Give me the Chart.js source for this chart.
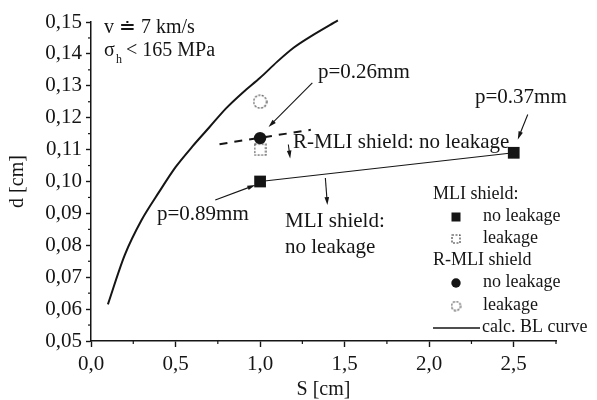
<!DOCTYPE html>
<html><head><meta charset="utf-8">
<script src="https://cdn.jsdelivr.net/npm/chart.js@4"></script>
<style>html,body{margin:0;padding:0;background:#fff;} canvas{display:block;}</style>
</head><body>
<canvas id="c" width="597" height="400"></canvas>
<script>
// ---- data ----
const blCurveS = [0.1, 0.2, 0.3, 0.4, 0.5, 0.6, 0.7, 0.8, 0.9, 1.0, 1.1, 1.2, 1.3, 1.46];
const blCurveD = [0.0615, 0.077, 0.088, 0.0965, 0.1045, 0.111, 0.117, 0.123, 0.128, 0.1325, 0.1375, 0.142, 0.1455, 0.1505];
const mliNoLeakS = [1.0, 2.5];
const mliNoLeakD = [0.100, 0.109];
const mliLeakS = [1.0];
const mliLeakD = [0.110];
const rmliNoLeakS = [1.0];
const rmliNoLeakD = [0.1136];
const rmliLeakS = [1.0];
const rmliLeakD = [0.125];
const rmliTrendS = [0.76, 1.30];
const rmliTrendD = [0.1117, 0.1162];
const xTicks = [0, 0.5, 1.0, 1.5, 2.0, 2.5];
const yTicks = [0.05, 0.06, 0.07, 0.08, 0.09, 0.10, 0.11, 0.12, 0.13, 0.14, 0.15];
const xMinor = [0.25, 0.75, 1.25, 1.75, 2.25, 2.75];
const yMinor = [0.055, 0.065, 0.075, 0.085, 0.095, 0.105, 0.115, 0.125, 0.135, 0.145];
// arrows [fromS, fromD, toS, toD]
const arrows = [
  [1.309, 0.1309, 1.05, 0.1171],
  [2.583, 0.1210, 2.524, 0.1132],
  [0.735, 0.0942, 0.972, 0.0989],
  [1.167, 0.1116, 1.178, 0.1072],
  [1.386, 0.1011, 1.398, 0.0926]
];

const pts = (xs, ys) => xs.map((x, i) => ({x: x, y: ys[i]}));
const FONT = "'Liberation Serif', 'Times New Roman', serif";
const INK = '#151515';

function dottedSquare(size) {
  const c = document.createElement('canvas');
  c.width = c.height = size + 2;
  const g = c.getContext('2d');
  g.setLineDash([2, 1.5]);
  g.lineWidth = 1.1;
  g.strokeStyle = '#333';
  g.strokeRect(1, 1, size, size);
  return c;
}
function dottedCircle(size) {
  const c = document.createElement('canvas');
  c.width = c.height = size + 2;
  const g = c.getContext('2d');
  g.setLineDash([2, 1.5]);
  g.lineWidth = 1.1;
  g.strokeStyle = '#333';
  g.beginPath();
  g.arc(c.width / 2, c.height / 2, size / 2, 0, Math.PI * 2);
  g.stroke();
  return c;
}
const openSq = dottedSquare(11), openCi = dottedCircle(13);
const openSqS = dottedSquare(8), openCiS = dottedCircle(9);

const decor = {
  id: 'decor',
  afterDraw(chart) {
    const ctx = chart.ctx, xs = chart.scales.x, ys = chart.scales.y;
    ctx.save();
    // minor ticks
    ctx.strokeStyle = INK; ctx.lineWidth = 1.2;
    xMinor.forEach(v => { const p = xs.getPixelForValue(v); ctx.beginPath(); ctx.moveTo(p, xs.top); ctx.lineTo(p, xs.top + 3); ctx.stroke(); });
    yMinor.forEach(v => { const p = ys.getPixelForValue(v); ctx.beginPath(); ctx.moveTo(ys.right, p); ctx.lineTo(ys.right - 3, p); ctx.stroke(); });
    // arrows
    arrows.forEach(a => {
      const x1 = xs.getPixelForValue(a[0]), y1 = ys.getPixelForValue(a[1]);
      const x2 = xs.getPixelForValue(a[2]), y2 = ys.getPixelForValue(a[3]);
      const ang = Math.atan2(y2 - y1, x2 - x1);
      ctx.lineWidth = 1.1;
      ctx.beginPath(); ctx.moveTo(x1, y1); ctx.lineTo(x2 - 6 * Math.cos(ang), y2 - 6 * Math.sin(ang)); ctx.stroke();
      ctx.beginPath();
      ctx.moveTo(x2, y2);
      ctx.lineTo(x2 - 8 * Math.cos(ang) + 2.3 * Math.sin(ang), y2 - 8 * Math.sin(ang) - 2.3 * Math.cos(ang));
      ctx.lineTo(x2 - 8 * Math.cos(ang) - 2.3 * Math.sin(ang), y2 - 8 * Math.sin(ang) + 2.3 * Math.cos(ang));
      ctx.closePath(); ctx.fillStyle = INK; ctx.fill();
    });
    // text annotations
    ctx.fillStyle = INK;
    ctx.textAlign = 'left';
    ctx.textBaseline = 'alphabetic';
    ctx.font = '20px ' + FONT;
    ctx.fillText('v \u2250 7 km/s', 104, 33);
    ctx.fillText('\u03c3', 104, 56);
    ctx.font = '12px ' + FONT;
    ctx.fillText('h', 116, 63);
    ctx.font = '20px ' + FONT;
    ctx.fillText('< 165 MPa', 126, 56);
    ctx.font = '21px ' + FONT;
    ctx.textBaseline = 'middle';
    ctx.fillText('p=0.26mm', 318, 72);
    ctx.fillText('p=0.37mm', 475, 97);
    ctx.fillText('R-MLI shield: no leakage', 293, 142);
    ctx.fillText('p=0.89mm', 157, 214);
    ctx.fillText('MLI shield:', 285, 221);
    ctx.fillText('no leakage', 285, 247);
    // legend
    ctx.font = '18px ' + FONT;
    ctx.fillText('MLI shield:', 433, 194);
    ctx.fillText('no leakage', 483, 216);
    ctx.fillText('leakage', 483, 238);
    ctx.fillText('R-MLI shield', 433, 260);
    ctx.fillText('no leakage', 483, 282);
    ctx.fillText('leakage', 483, 305);
    ctx.fillText('calc. BL curve', 482, 327);
    ctx.fillRect(456 - 4.5, 217 - 4.5, 9, 9);
    ctx.drawImage(openSqS, 456 - 5, 239 - 5);
    ctx.beginPath(); ctx.arc(456, 283, 4.7, 0, Math.PI * 2); ctx.fill();
    ctx.drawImage(openCiS, 456 - 5.5, 306 - 5.5);
    ctx.lineWidth = 1.6;
    ctx.beginPath(); ctx.moveTo(433, 328); ctx.lineTo(480, 328); ctx.stroke();
    ctx.restore();
  }
};

Chart.defaults.font.family = FONT;
Chart.defaults.color = INK;

new Chart(document.getElementById('c'), {
  type: 'scatter',
  data: {
    datasets: [
      { label: 'calc. BL curve', data: pts(blCurveS, blCurveD), showLine: true, borderColor: INK, borderWidth: 2, pointRadius: 0, tension: 0.3, fill: false, clip: 6 },
      { label: 'R-MLI trend', data: pts(rmliTrendS, rmliTrendD), showLine: true, borderColor: INK, borderWidth: 2, borderDash: [8, 7], pointRadius: 0, fill: false },
      { label: 'MLI no leakage line', data: pts(mliNoLeakS, mliNoLeakD), showLine: true, borderColor: INK, borderWidth: 1.1, pointRadius: 0, fill: false },
      { label: 'MLI leakage', data: pts(mliLeakS, mliLeakD), pointStyle: openSq, pointRadius: 6 },
      { label: 'MLI no leakage', data: pts(mliNoLeakS, mliNoLeakD), pointStyle: 'rect', pointRadius: 8.3, backgroundColor: INK, borderColor: INK, borderWidth: 0 },
      { label: 'R-MLI leakage', data: pts(rmliLeakS, rmliLeakD), pointStyle: openCi, pointRadius: 7 },
      { label: 'R-MLI no leakage', data: pts(rmliNoLeakS, rmliNoLeakD), pointStyle: 'circle', pointRadius: 6.2, backgroundColor: INK, borderColor: INK, borderWidth: 0 }
    ]
  },
  options: {
    responsive: false,
    animation: false,
    events: [],
    layout: { padding: { left: 0, right: 41, top: 22, bottom: 0 } },
    plugins: { legend: { display: false }, tooltip: { enabled: false } },
    scales: {
      x: {
        type: 'linear', min: 0, max: 2.75,
        afterFit(s) { s.height = 59; },
        afterBuildTicks(s) { s.ticks = xTicks.map(v => ({ value: v })); },
        grid: { drawOnChartArea: false, drawTicks: true, tickLength: 6, tickColor: INK, tickWidth: 1.4 },
        border: { display: true, color: INK, width: 1.5 },
        ticks: { font: { family: FONT, size: 21 }, padding: 5, color: INK, maxRotation: 0,
          callback: v => v.toFixed(1).replace('.', ',') },
        title: { display: true, text: 'S [cm]', font: { family: FONT, size: 20, lineHeight: 1 }, color: INK, padding: { top: 0, bottom: 0 } }
      },
      y: {
        type: 'linear', min: 0.05, max: 0.15,
        afterFit(s) { s.width = 91; },
        afterBuildTicks(s) { s.ticks = yTicks.map(v => ({ value: v })); },
        grid: { drawOnChartArea: false, drawTicks: true, tickLength: 5, tickColor: INK, tickWidth: 1.4 },
        border: { display: true, color: INK, width: 1.5 },
        ticks: { font: { family: FONT, size: 21 }, padding: 4, color: INK,
          callback: v => v.toFixed(2).replace('.', ',') },
        title: { display: true, text: 'd [cm]', font: { family: FONT, size: 20 }, color: INK, padding: { top: 6, bottom: 0 } }
      }
    }
  },
  plugins: [decor]
});
</script>
</body></html>
